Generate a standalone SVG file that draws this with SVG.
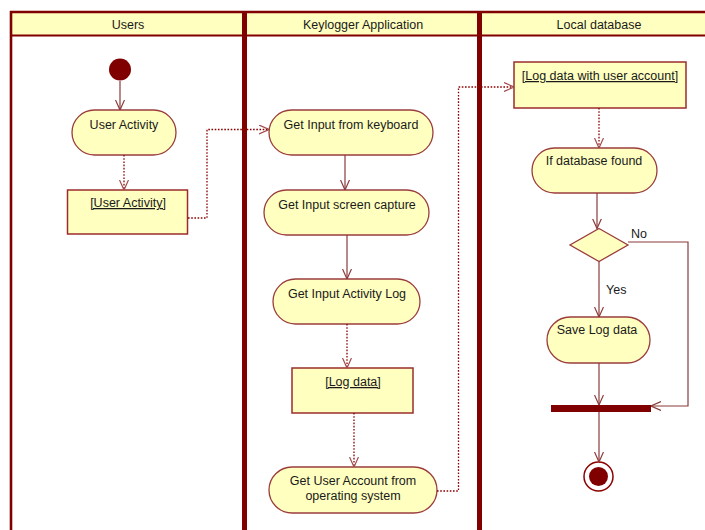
<svg xmlns="http://www.w3.org/2000/svg" width="705" height="530" viewBox="0 0 705 530">
  <style>
    .lane { stroke: #800000; fill: none; }
    .hdr { fill: #ffffc0; }
    .hdrtxt { font-family: "Liberation Sans", Arial, sans-serif; font-size: 12.5px; fill: #1a1a1a; text-anchor: middle; }
    .act { fill: #ffffc0; stroke: #9b3c3c; stroke-width: 1.3; }
    .obj { fill: #ffffc0; stroke: #9b2c2c; stroke-width: 1.5; }
    .txt { font-family: "Liberation Sans", Arial, sans-serif; font-size: 12.5px; fill: #1a1a1a; text-anchor: middle; }
    .utxt { text-decoration: underline; }
    .flow { fill: none; stroke: #8b3a3a; stroke-width: 1.2; marker-end: url(#open); }
    .objflow { fill: none; stroke: #8b0000; stroke-width: 1.3; stroke-dasharray: 1.6 1.6; marker-end: url(#openDot); }
    .lbl { font-family: "Liberation Sans", Arial, sans-serif; font-size: 12.5px; fill: #1a1a1a; }
  </style>
  <defs>
    <marker id="open" viewBox="0 0 10 10" refX="10" refY="5" markerWidth="10" markerHeight="10" markerUnits="userSpaceOnUse" orient="auto">
      <path d="M0,0.5 L10,5 L0,9.5" fill="none" stroke="#8b3a3a" stroke-width="1.2"/>
    </marker>
    <marker id="openDot" viewBox="0 0 10 10" refX="10" refY="5" markerWidth="10" markerHeight="10" markerUnits="userSpaceOnUse" orient="auto">
      <path d="M0,0.5 L10,5 L0,9.5" fill="none" stroke="#a04a4a" stroke-width="1.2"/>
    </marker>
  </defs>

  <rect width="705" height="530" fill="#ffffff"/>

  <!-- swimlanes -->
  <g id="swimlanes">
    <rect class="hdr" x="11" y="13" width="694" height="22"/>
    <line class="lane" x1="10" y1="12" x2="705" y2="12" stroke-width="2.5"/>
    <line class="lane" x1="11" y1="35.5" x2="705" y2="35.5" stroke-width="2.2"/>
    <line class="lane" x1="11" y1="11" x2="11" y2="530" stroke-width="2.6"/>
    <line class="lane" x1="244.5" y1="11" x2="244.5" y2="530" stroke-width="5"/>
    <line class="lane" x1="479.5" y1="11" x2="479.5" y2="530" stroke-width="5"/>
    <text class="hdrtxt" x="128" y="29">Users</text>
    <text class="hdrtxt" x="363" y="29">Keylogger Application</text>
    <text class="hdrtxt" x="599" y="29">Local database</text>
  </g>

  <!-- Users lane -->
  <g id="start">
    <circle cx="120" cy="69.5" r="11" fill="#800000"/>
  </g>
  <g id="user-activity">
    <rect class="act" x="72" y="110" width="104" height="45" rx="22.5"/>
    <text class="txt" x="124" y="129">User Activity</text>
  </g>
  <g id="user-activity-obj">
    <rect class="obj" x="67.5" y="190" width="120" height="44"/>
    <text class="txt utxt" x="128" y="207">[User Activity]</text>
  </g>

  <!-- Keylogger Application lane -->
  <g id="input-keyboard">
    <rect class="act" x="269" y="110" width="164" height="45" rx="22.5"/>
    <text class="txt" x="351" y="129">Get Input from keyboard</text>
  </g>
  <g id="input-screen">
    <rect class="act" x="264" y="190" width="165" height="45" rx="22.5"/>
    <text class="txt" x="347" y="209">Get Input screen capture</text>
  </g>
  <g id="input-activity-log">
    <rect class="act" x="273" y="279" width="147" height="45" rx="22.5"/>
    <text class="txt" x="347" y="298">Get Input Activity Log</text>
  </g>
  <g id="log-data-obj">
    <rect class="obj" x="292" y="368" width="121" height="45"/>
    <text class="txt utxt" x="353" y="386">[Log data]</text>
  </g>
  <g id="user-account">
    <rect class="act" x="269" y="467" width="168" height="46" rx="23"/>
    <text class="txt" x="353" y="485">Get User Account from</text>
    <text class="txt" x="353" y="500">operating system</text>
  </g>

  <!-- Local database lane -->
  <g id="log-with-account-obj">
    <rect class="obj" x="514" y="62" width="172" height="46"/>
    <text class="txt utxt" x="600" y="80">[Log data with user account]</text>
  </g>
  <g id="db-found">
    <rect class="act" x="532" y="148" width="125" height="45" rx="22.5"/>
    <text class="txt" x="594" y="165">If database found</text>
  </g>
  <g id="decision">
    <polygon class="act" points="599,228.5 628,245 599,261.5 570,245"/>
  </g>
  <g id="save-log">
    <rect class="act" x="547" y="317" width="103" height="46" rx="23"/>
    <text class="txt" x="597" y="334">Save Log data</text>
  </g>
  <g id="join">
    <rect x="551" y="405" width="100" height="7" fill="#800000"/>
  </g>
  <g id="end">
    <circle cx="598.5" cy="476.5" r="14.5" fill="#ffffff" stroke="#8b0000" stroke-width="1.5"/>
    <circle cx="598.5" cy="476.5" r="9.5" fill="#800000"/>
  </g>

  <!-- connectors -->
  <g id="connectors">
    <path class="flow" d="M120,81 L120,110"/>
    <path class="objflow" d="M124,155 L124,190"/>
    <path class="objflow" d="M188,218 L207,218 L207,129.5 L269,129.5"/>
    <path class="flow" d="M345,155 L345,190"/>
    <path class="flow" d="M347,235 L347,279"/>
    <path class="objflow" d="M347,324 L347,368"/>
    <path class="objflow" d="M354,413 L354,467"/>
    <path class="objflow" d="M437,491 L458.5,491 L458.5,87 L514,87"/>
    <path class="objflow" d="M599,108 L599,148"/>
    <path class="flow" d="M597,193 L597,228.5"/>
    <path class="flow" d="M599,261.5 L599,317"/>
    <path class="flow" d="M628,242 L688,242 L688,406 L651,406"/>
    <path class="flow" d="M599,363 L599,405"/>
    <path class="flow" d="M599,412 L599,462"/>
    <text class="lbl" x="631" y="238">No</text>
    <text class="lbl" x="606" y="294">Yes</text>
  </g>
</svg>
